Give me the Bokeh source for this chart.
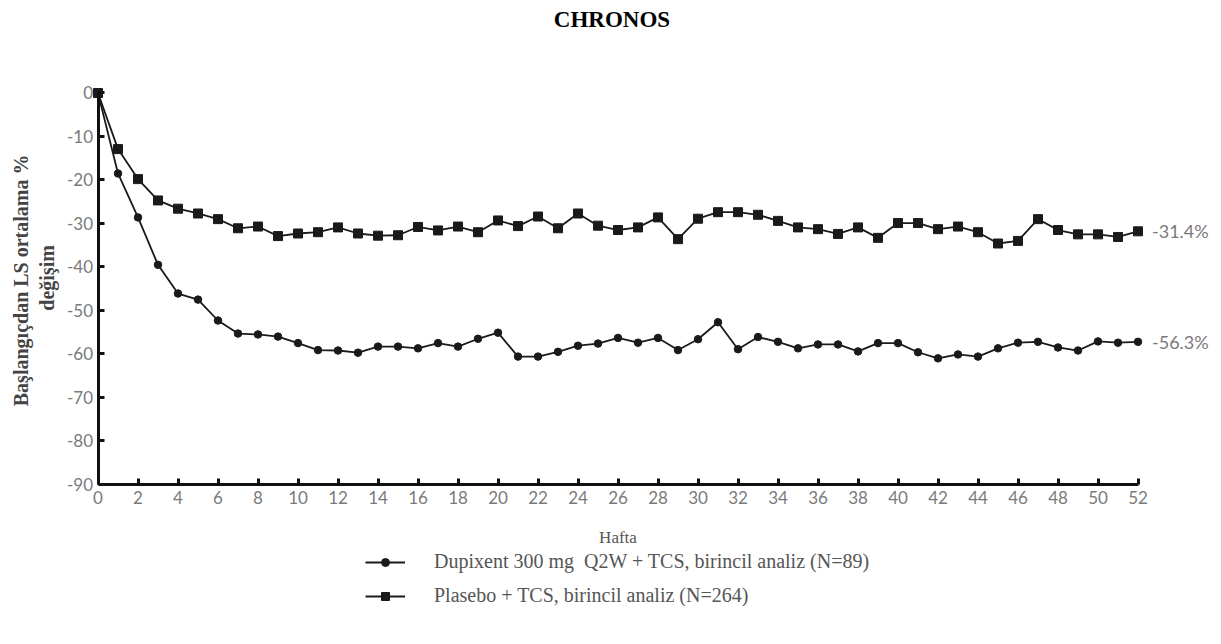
import math
from bokeh.plotting import figure
from bokeh.models import Range1d, FixedTicker, Label, Legend, LegendItem
from bokeh.core.properties import value
from bokeh.embed import file_html
from bokeh.resources import INLINE

weeks = list(range(0, 53))
dupixent = [0, -18.5, -28.6, -39.5, -46.1, -47.5, -52.3, -55.3, -55.5, -56.0,
            -57.5, -59.1, -59.2, -59.7, -58.3, -58.3, -58.7, -57.5, -58.3, -56.5,
            -55.1, -60.6, -60.6, -59.5, -58.1, -57.6, -56.3, -57.4, -56.3, -59.1,
            -56.6, -52.7, -58.9, -56.1, -57.2, -58.7, -57.8, -57.8, -59.4, -57.5,
            -57.5, -59.6, -61.0, -60.1, -60.6, -58.7, -57.4, -57.2, -58.5, -59.2,
            -57.1, -57.4, -57.2]
placebo = [0, -12.9, -19.8, -24.7, -26.6, -27.7, -29.0, -31.1, -30.7, -32.9,
           -32.3, -32.0, -30.9, -32.3, -32.8, -32.7, -30.8, -31.6, -30.7, -32.0,
           -29.3, -30.6, -28.4, -31.1, -27.7, -30.5, -31.5, -30.9, -28.6, -33.6,
           -28.9, -27.4, -27.4, -28.0, -29.4, -30.9, -31.3, -32.4, -30.9, -33.3,
           -29.9, -29.9, -31.3, -30.7, -32.0, -34.6, -34.0, -29.0, -31.5, -32.5,
           -32.5, -33.1, -31.8]
end_labels = ["-56.3%", "-31.4%"]
x_ticks = list(range(0, 53, 2))
y_ticks = list(range(-90, 1, 10))
title_text = "CHRONOS"
ylabel_1 = "Başlangıçdan LS ortalama  %"
ylabel_2 = "değişim"
xlabel = "Hafta"
legend_labels = ["Dupixent 300 mg  Q2W + TCS, birincil analiz (N=89)",
                 "Plasebo + TCS, birincil analiz (N=264)"]

p = figure(width=1221, height=644, output_backend="svg", toolbar_location=None,
           x_range=Range1d(-4.875, 56.175), y_range=Range1d(-126.78, 21.26),
           min_border=0, min_border_left=0, min_border_right=0,
           min_border_top=0, min_border_bottom=0)
p.outline_line_color = None
p.xgrid.visible = False
p.ygrid.visible = False

tick_font = "Lato"
tick_color = "#7a7a7a"
for ax in (p.xaxis[0], p.yaxis[0]):
    ax.axis_line_width = 3
    ax.axis_line_color = "#111111"
    ax.major_tick_line_width = 3
    ax.major_tick_line_color = "#111111"
    ax.major_tick_in = 6
    ax.major_tick_out = 0
    ax.minor_tick_line_color = None
    ax.major_label_text_font = tick_font
    ax.major_label_text_font_size = "17px"
    ax.major_label_text_color = tick_color

p.xaxis.ticker = FixedTicker(ticks=x_ticks)
p.yaxis.ticker = FixedTicker(ticks=y_ticks)
p.yaxis.major_label_overrides = {t: str(t) for t in y_ticks}
p.xaxis.bounds = (0, 52)
p.yaxis.bounds = (-90, 0)
p.yaxis.fixed_location = 0
p.xaxis.fixed_location = -90
p.xaxis.major_label_standoff = 6
p.yaxis.major_label_standoff = 5

l1 = p.line(weeks, dupixent, line_color="#1a1a1a", line_width=1.8)
s1 = p.scatter(weeks, dupixent, marker="circle", size=7.5, fill_color="#1a1a1a",
               line_color="#1a1a1a")
l2 = p.line(weeks, placebo, line_color="#1a1a1a", line_width=1.8)
s2 = p.scatter(weeks, placebo, marker="square", size=9, fill_color="#1a1a1a",
               line_color="#1a1a1a")

p.text(x=[weeks[-1], weeks[-1]], y=[dupixent[-1], placebo[-1]], text=end_labels,
       x_offset=14, text_baseline="middle", text_align="left",
       text_font=value(tick_font), text_font_size="18px", text_color=tick_color)

p.add_layout(Label(x=25.7, y=16.9, text=title_text, text_align="center",
                   text_baseline="middle", text_font="Liberation Serif",
                   text_font_style="bold", text_font_size="23px",
                   text_color="#000000"))
p.add_layout(Label(x=26, y=-102.2, text=xlabel, text_align="center",
                   text_baseline="middle", text_font="Liberation Serif",
                   text_font_size="17px", text_color="#555555"))
p.add_layout(Label(x=-3.84, y=-42.5, text=ylabel_1, angle=math.pi / 2,
                   text_align="center", text_baseline="middle",
                   text_font="Liberation Serif", text_font_style="bold",
                   text_font_size="20px", text_color="#444444"))
p.add_layout(Label(x=-2.54, y=-42.5, text=ylabel_2, angle=math.pi / 2,
                   text_align="center", text_baseline="middle",
                   text_font="Liberation Serif", text_font_style="bold",
                   text_font_size="20px", text_color="#444444"))

legend = Legend(items=[LegendItem(label=legend_labels[0], renderers=[l1, s1]),
                       LegendItem(label=legend_labels[1], renderers=[l2, s2])],
                location=(365, 37), orientation="vertical",
                padding=0, margin=0, spacing=11, glyph_width=40, glyph_height=20,
                label_height=20, label_standoff=29,
                label_text_font="Liberation Serif", label_text_font_size="20px",
                label_text_color="#555555", border_line_color=None,
                background_fill_alpha=0)
p.add_layout(legend, "center")

open("out.html", "w").write(file_html(p, INLINE))
